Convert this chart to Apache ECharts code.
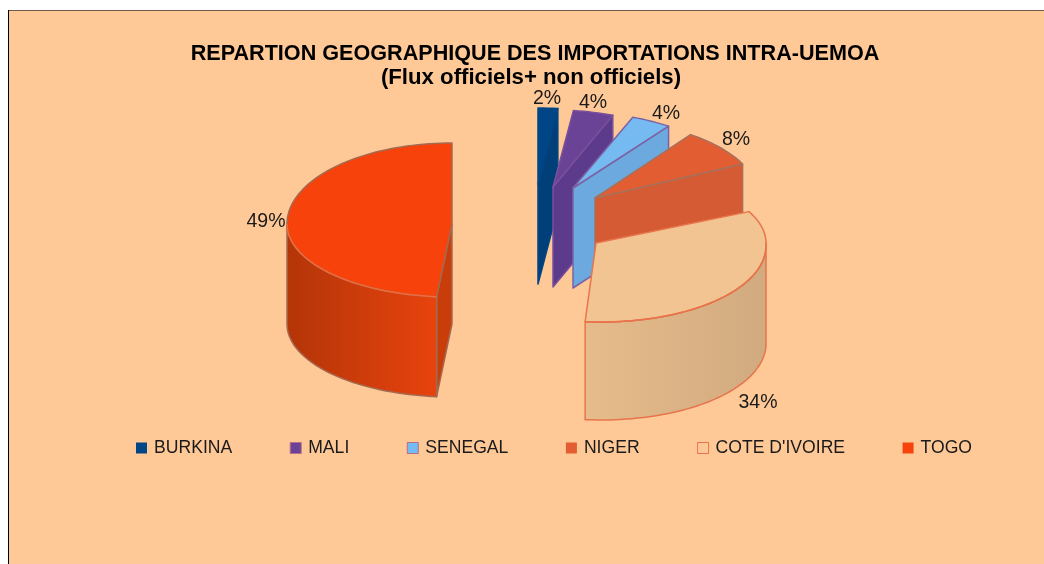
<!DOCTYPE html>
<html>
<head>
<meta charset="utf-8">
<style>
html, body { margin: 0; padding: 0; background: #fff; }
#main { width: 1044px; height: 564px; }
</style>
<script src="https://cdn.jsdelivr.net/npm/echarts@6/dist/echarts.min.js"></script>
</head>
<body>
<div id="main"></div>
<script>
var categories = ['BURKINA', 'MALI', 'SENEGAL', 'NIGER', "COTE D'IVOIRE", 'TOGO'];
var shares = [2, 4, 4, 8, 34, 49];

// where each exploded slice sits on the page (apex, radii, label)
var apexX = [538, 553, 573, 595, 596, 452];
var apexY = [184, 187, 188, 198, 243, 224];
var radiusX = [160, 164, 164, 164, 170, 165];
var radiusBack = [76, 77, 76, 78, 72, 81];
var radiusFront = [76, 77, 76, 78, 79, 73];
var skewFront = [0, 0, 0, 0, 5, 0];
var wallHeights = [100, 100, 100, 100, 98, 100];
var labelX = [547, 593, 666, 736, 758, 266];
var labelY = [99, 103, 114, 140, 403, 222];

var topColors = ['#004586', '#6a4396', '#75bbf2', '#e35d32', '#f2c491', '#f7420c'];
var wallColors = ['#003f78', '#5c3a8c', '#6ca9de', '#d55b34', '#e0b688', '#c93d0a'];
var wallGradLeft = ['', '', '', '', '#e6bc8b', '#b33508'];
var wallGradRight = ['', '', '', '', '#d1aa80', '#e8430d'];
var lineColors = ['#004586', '#7a4f9c', '#7d62a4', '#a8705a', '#e8744c', '#a5694f'];
var rimColors = ['', '', '', '', '#e8744c', '#ee6b3c'];

var total = 0;
shares.forEach(function(v) { total += v; });

function project(i, deg, drop) {
	var r = deg * Math.PI / 180;
	var c = Math.cos(r);
	var ry = c > 0 ? radiusBack[i] : radiusFront[i];
	var skew = c < 0 ? -c * skewFront[i] : 0;
	return [apexX[i] + radiusX[i] * Math.sin(r) + skew, apexY[i] - ry * c + (drop || 0)];
}

function arcPoints(i, from, to, drop) {
	var pts = [];
	var n = Math.max(2, Math.ceil((to - from) / 2));
	for (var k = 0; k <= n; k++) {
		pts.push(project(i, from + (to - from) * k / n, drop));
	}
	return pts;
}

function polygon(pts, fill, stroke, width) {
	return {
		type: 'polygon',
		shape: { points: pts },
		style: { fill: fill, stroke: stroke, lineWidth: width, lineJoin: 'round' }
	};
}

function sliceRender(i) {
	return function() {
		var from = 0;
		for (var k = 0; k < i; k++) from += shares[k] / total * 360;
		var to = from + shares[i] / total * 360;
		var h = wallHeights[i];
		var apex = [apexX[i], apexY[i]];
		var apexLow = [apexX[i], apexY[i] + h];
		var kids = [];

		// side walls facing the viewer
		if (to < 180 || from > 180) {
			var edge = to < 180 ? to : from;
			kids.push(polygon([apex, project(i, edge), project(i, edge, h), apexLow],
				wallColors[i], lineColors[i], 1.5));
		}
		var a = Math.max(from, 90), b = Math.min(to, 270);
		if (b > a) {
			var outer = arcPoints(i, a, b).concat(arcPoints(i, a, b, h).reverse());
			kids.push(polygon(outer, {
				type: 'linear', x: 0, y: 0, x2: 1, y2: 0,
				colorStops: [{ offset: 0, color: wallGradLeft[i] }, { offset: 1, color: wallGradRight[i] }]
			}, lineColors[i], 1.5));
		}

		// top face
		kids.push(polygon([apex].concat(arcPoints(i, from, to)), topColors[i], lineColors[i], 1.5));
		if (b > a) {
			kids.push({
				type: 'polyline',
				shape: { points: arcPoints(i, a, b) },
				style: { fill: null, stroke: rimColors[i], lineWidth: 1.5 }
			});
		}

		kids.push({
			type: 'text',
			style: {
				x: labelX[i], y: labelY[i],
				text: shares[i] + '%',
				fill: '#1a1a1a',
				font: '19.5px "Liberation Sans"',
				align: 'center',
				verticalAlign: 'middle'
			}
		});
		return { type: 'group', children: kids };
	};
}

var chart = echarts.init(document.getElementById('main'));

var series = categories.map(function(name, i) {
	return {
		name: name,
		type: 'custom',
		coordinateSystem: 'none',
		silent: true,
		animation: false,
		itemStyle: { color: topColors[i] },
		data: [shares[i]],
		renderItem: sliceRender(i)
	};
});

var legendData = categories.map(function(name, i) {
	return {
		name: name,
		icon: 'rect',
		itemStyle: {
			color: i == 4 ? '#ffc997' : topColors[i],
			borderColor: i == 4 ? '#e8744c' : (i == 1 || i == 2 ? '#b56f86' : topColors[i]),
			borderWidth: i == 1 || i == 2 || i == 4 ? 1 : 0
		}
	};
});

chart.setOption({
	animation: false,
	title: [{
		text: 'REPARTION GEOGRAPHIQUE DES IMPORTATIONS INTRA-UEMOA',
		left: 530, top: 38, textAlign: 'center',
		textStyle: { color: '#000', fontFamily: 'Liberation Sans', fontWeight: 'bold', fontSize: 21.6 }
	}, {
		text: '(Flux officiels+ non officiels)',
		left: 526, top: 62, textAlign: 'center',
		textStyle: { color: '#000', fontFamily: 'Liberation Sans', fontWeight: 'bold', fontSize: 22.2 }
	}],
	legend: {
		left: 131,
		top: 434,
		itemWidth: 11,
		itemHeight: 11,
		itemGap: 57.5,
		data: legendData,
		selectedMode: false,
		textStyle: { color: '#1a1a1a', fontFamily: 'Liberation Sans', fontSize: 17.6, padding: [0, 0, 0, 2] }
	},
	graphic: [{
		type: 'rect', z: -10,
		shape: { x: 8, y: 10, width: 1036, height: 554 },
		style: { fill: '#ffc997' }
	}, {
		type: 'line', z: -9,
		shape: { x1: 8, y1: 10.5, x2: 1044, y2: 10.5 },
		style: { stroke: '#6e5a4a', lineWidth: 1 }
	}, {
		type: 'line', z: -9,
		shape: { x1: 8.5, y1: 10, x2: 8.5, y2: 564 },
		style: { stroke: '#000', lineWidth: 1 }
	}],
	series: series
});
</script>
</body>
</html>
